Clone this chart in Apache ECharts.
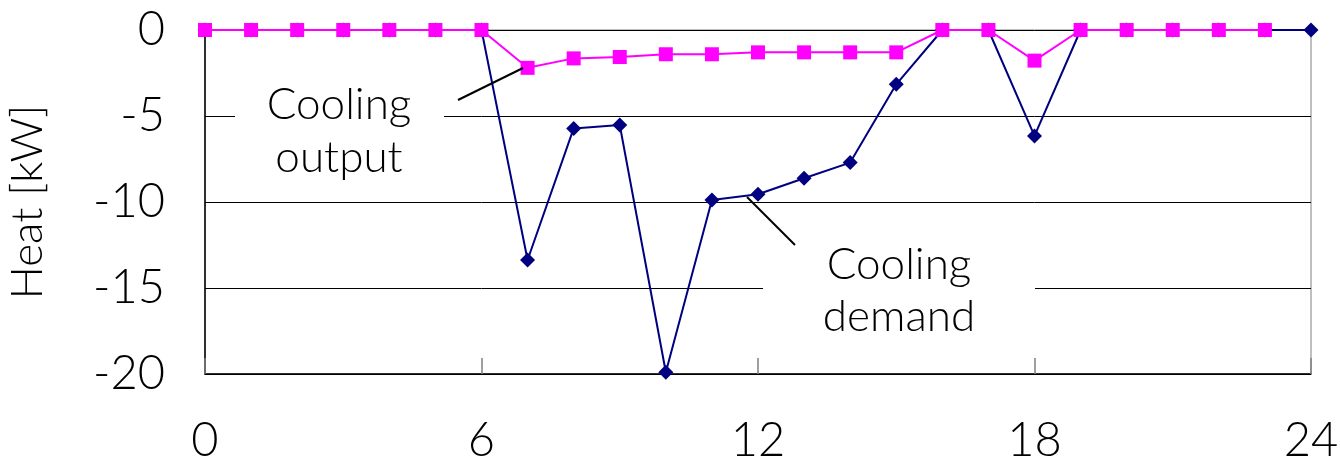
<!DOCTYPE html>
<html>
<head>
<meta charset="utf-8">
<style>
  html, body { margin: 0; padding: 0; background: #ffffff; }
  #chart { width: 1340px; height: 468px; }
</style>
<script src="https://cdn.jsdelivr.net/npm/echarts@6/dist/echarts.min.js"></script>
</head>
<body>
<div id="chart"></div>
<script>
// Hourly heat balance over one day (negative = cooling)
const hoursDemand = [0, 1, 2, 3, 4, 5, 6, 7, 8, 9, 10, 11, 12, 13, 14, 15, 16, 17, 18, 19, 20, 21, 22, 23, 24];
const coolingDemand = [0, 0, 0, 0, 0, 0, 0, -13.37, -5.72, -5.52, -19.9, -9.88, -9.55, -8.62, -7.71, -3.16, 0, 0, -6.16, 0, 0, 0, 0, 0, 0];
const hoursOutput = [0, 1, 2, 3, 4, 5, 6, 7, 8, 9, 10, 11, 12, 13, 14, 15, 16, 17, 18, 19, 20, 21, 22, 23];
const coolingOutput = [0, 0, 0, 0, 0, 0, 0, -2.2, -1.65, -1.57, -1.41, -1.41, -1.3, -1.3, -1.3, -1.3, 0, 0, -1.78, 0, 0, 0, 0, 0];

const xTicks = { min: 0, max: 24, interval: 6 };
const yTicks = { min: -20, max: 0, interval: 5 };

const FONT = 'Lato';
const WEIGHT = 300;

const chart = echarts.init(document.getElementById('chart'), null, { renderer: 'canvas' });

chart.setOption({
  animation: false,
  backgroundColor: '#ffffff',
  grid: {
    left: 205, right: 29, top: 30, bottom: 94,
    containLabel: false,
    outerBoundsMode: 'none',
    show: true, borderColor: '#808080', borderWidth: 1, backgroundColor: 'transparent'
  },
  xAxis: {
    type: 'value',
    min: xTicks.min, max: xTicks.max, interval: xTicks.interval,
    axisLine: { show: true, onZero: false, lineStyle: { color: '#000000', width: 1.5 } },
    axisTick: { show: true, inside: true, length: 16, lineStyle: { color: '#808080', width: 1.5 } },
    splitLine: { show: false },
    axisLabel: { color: '#000000', fontFamily: FONT, fontWeight: WEIGHT, fontSize: 47, margin: 43 }
  },
  yAxis: {
    type: 'value',
    min: yTicks.min, max: yTicks.max, interval: yTicks.interval,
    name: 'Heat [kW]',
    nameLocation: 'middle',
    nameRotate: 90,
    nameGap: 155,
    nameTextStyle: { color: '#000000', fontFamily: FONT, fontWeight: WEIGHT, fontSize: 44 },
    axisLine: { show: true, lineStyle: { color: '#000000', width: 1.5 } },
    axisTick: { show: false },
    splitLine: { show: true, lineStyle: { color: '#000000', width: 1 } },
    axisLabel: { color: '#000000', fontFamily: FONT, fontWeight: WEIGHT, fontSize: 47, margin: 40 }
  },
  graphic: [
    // label boxes hide the grid lines behind the annotations
    { type: 'rect', z: 1, shape: { x: 235, y: 84, width: 209, height: 100 }, style: { fill: '#ffffff' } },
    { type: 'rect', z: 1, shape: { x: 763, y: 238, width: 272, height: 104 }, style: { fill: '#ffffff' } },
    { type: 'text', z: 5, x: 339, y: 131,
      style: { text: 'Cooling\noutput', fill: '#000000', font: WEIGHT + ' 44px ' + FONT, align: 'center', verticalAlign: 'middle', lineHeight: 53 } },
    { type: 'text', z: 5, x: 899, y: 291,
      style: { text: 'Cooling\ndemand', fill: '#000000', font: WEIGHT + ' 44px ' + FONT, align: 'center', verticalAlign: 'middle', lineHeight: 52 } },
    { type: 'line', z: 5, shape: { x1: 458, y1: 100, x2: 523, y2: 68 }, style: { stroke: '#000000', lineWidth: 2 } },
    { type: 'line', z: 5, shape: { x1: 747, y1: 197, x2: 795, y2: 245 }, style: { stroke: '#000000', lineWidth: 2 } }
  ],
  series: [
    {
      name: 'Cooling demand',
      type: 'line',
      z: 3,
      data: hoursDemand.map((h, i) => [h, coolingDemand[i]]),
      symbol: 'diamond',
      symbolSize: 15,
      itemStyle: { color: '#000080' },
      lineStyle: { color: '#000080', width: 2 }
    },
    {
      name: 'Cooling output',
      type: 'line',
      z: 4,
      data: hoursOutput.map((h, i) => [h, coolingOutput[i]]),
      symbol: 'rect',
      symbolSize: 14,
      itemStyle: { color: '#ff00ff' },
      lineStyle: { color: '#ff00ff', width: 2 }
    }
  ]
});
</script>
</body>
</html>
